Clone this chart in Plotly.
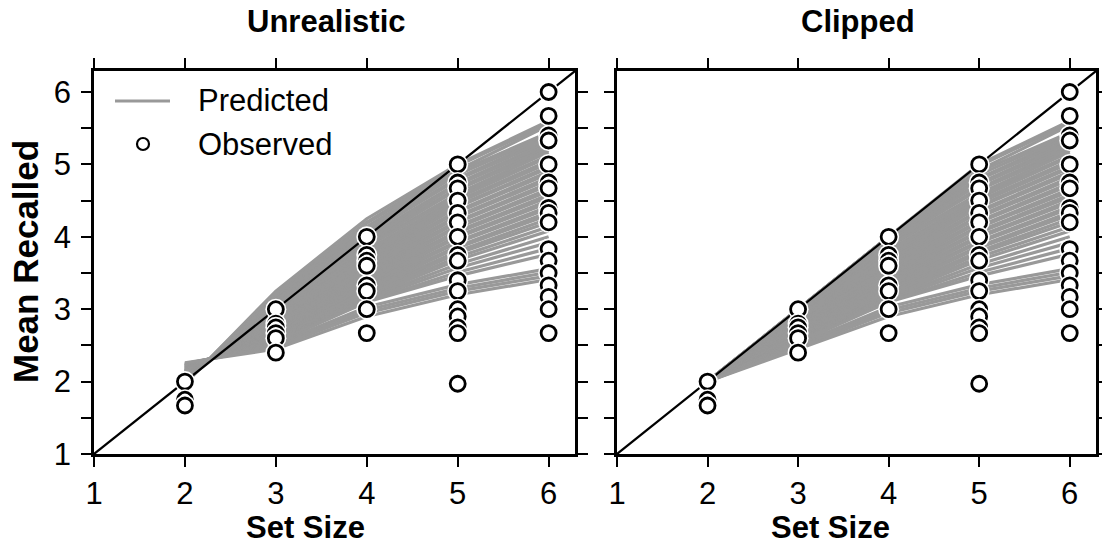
import plotly.graph_objects as go

# ---------------- data ----------------
set_sizes = [2, 3, 4, 5, 6]
tick_vals = [1, 2, 3, 4, 5, 6]
axis_range = [1, 6.29]
diag_xy = [1, 7]

# predicted mean recalled per simulated subject (set sizes 2..6)
pred_unrealistic = [
    [1.97, 3.25, 4.25, 5.00, 5.60],
    [1.98, 3.22, 4.20, 4.98, 5.57],
    [1.98, 3.18, 4.19, 4.92, 5.54],
    [1.99, 3.16, 4.14, 4.90, 5.44],
    [2.00, 3.13, 4.10, 4.86, 5.41],
    [2.00, 3.12, 4.07, 4.81, 5.38],
    [2.01, 3.09, 4.04, 4.79, 5.34],
    [2.02, 3.07, 4.00, 4.74, 5.31],
    [2.02, 3.05, 3.97, 4.72, 5.27],
    [2.03, 3.03, 3.95, 4.67, 5.24],
    [2.04, 3.01, 3.91, 4.65, 5.20],
    [2.04, 2.99, 3.88, 4.60, 5.17],
    [2.05, 2.98, 3.86, 4.58, 5.12],
    [2.06, 2.95, 3.82, 4.54, 5.10],
    [2.06, 2.94, 3.80, 4.50, 5.05],
    [2.07, 2.92, 3.76, 4.47, 5.02],
    [2.08, 2.90, 3.74, 4.43, 4.97],
    [2.08, 2.88, 3.70, 4.41, 4.95],
    [2.09, 2.86, 3.68, 4.36, 4.90],
    [2.10, 2.85, 3.64, 4.34, 4.87],
    [2.10, 2.83, 3.62, 4.29, 4.82],
    [2.11, 2.81, 3.58, 4.27, 4.79],
    [2.12, 2.80, 3.56, 4.22, 4.74],
    [2.12, 2.78, 3.52, 4.20, 4.71],
    [2.13, 2.76, 3.50, 4.15, 4.66],
    [2.14, 2.75, 3.47, 4.13, 4.63],
    [2.14, 2.73, 3.45, 4.08, 4.58],
    [2.15, 2.72, 3.42, 4.06, 4.55],
    [2.15, 2.70, 3.40, 4.01, 4.50],
    [2.16, 2.69, 3.37, 3.99, 4.47],
    [2.17, 2.67, 3.35, 3.94, 4.42],
    [2.17, 2.66, 3.32, 3.92, 4.39],
    [2.18, 2.64, 3.30, 3.87, 4.34],
    [2.19, 2.63, 3.27, 3.85, 4.30],
    [2.19, 2.62, 3.25, 3.80, 4.25],
    [2.20, 2.60, 3.22, 3.77, 4.20],
    [2.21, 2.59, 3.20, 3.72, 4.14],
    [2.21, 2.58, 3.17, 3.68, 4.08],
    [2.22, 2.57, 3.15, 3.62, 4.00],
    [2.22, 2.56, 3.13, 3.57, 3.92],
    [2.23, 2.55, 3.11, 3.51, 3.84],
    [2.23, 2.54, 3.10, 3.46, 3.76],
    [2.24, 2.52, 3.03, 3.34, 3.56],
    [2.24, 2.50, 2.99, 3.29, 3.51],
    [2.25, 2.48, 2.95, 3.25, 3.46],
    [2.26, 2.45, 2.90, 3.20, 3.41],
]

pred_clipped = [
    [1.97, 3.00, 4.00, 5.00, 5.60],
    [1.98, 3.00, 4.00, 4.98, 5.57],
    [1.98, 3.00, 4.00, 4.92, 5.54],
    [1.99, 3.00, 4.00, 4.90, 5.44],
    [2.00, 3.00, 4.00, 4.86, 5.41],
    [2.00, 3.00, 4.00, 4.81, 5.38],
    [2.00, 3.00, 4.00, 4.79, 5.34],
    [2.00, 3.00, 4.00, 4.74, 5.31],
    [2.00, 3.00, 3.97, 4.72, 5.27],
    [2.00, 3.00, 3.95, 4.67, 5.24],
    [2.00, 3.00, 3.91, 4.65, 5.20],
    [2.00, 2.99, 3.88, 4.60, 5.17],
    [2.00, 2.98, 3.86, 4.58, 5.12],
    [2.00, 2.95, 3.82, 4.54, 5.10],
    [2.00, 2.94, 3.80, 4.50, 5.05],
    [2.00, 2.92, 3.76, 4.47, 5.02],
    [2.00, 2.90, 3.74, 4.43, 4.97],
    [2.00, 2.88, 3.70, 4.41, 4.95],
    [2.00, 2.86, 3.68, 4.36, 4.90],
    [2.00, 2.85, 3.64, 4.34, 4.87],
    [2.00, 2.83, 3.62, 4.29, 4.82],
    [2.00, 2.81, 3.58, 4.27, 4.79],
    [2.00, 2.80, 3.56, 4.22, 4.74],
    [2.00, 2.78, 3.52, 4.20, 4.71],
    [2.00, 2.76, 3.50, 4.15, 4.66],
    [2.00, 2.75, 3.47, 4.13, 4.63],
    [2.00, 2.73, 3.45, 4.08, 4.58],
    [2.00, 2.72, 3.42, 4.06, 4.55],
    [2.00, 2.70, 3.40, 4.01, 4.50],
    [2.00, 2.69, 3.37, 3.99, 4.47],
    [2.00, 2.67, 3.35, 3.94, 4.42],
    [2.00, 2.66, 3.32, 3.92, 4.39],
    [2.00, 2.64, 3.30, 3.87, 4.34],
    [2.00, 2.63, 3.27, 3.85, 4.30],
    [2.00, 2.62, 3.25, 3.80, 4.25],
    [2.00, 2.60, 3.22, 3.77, 4.20],
    [2.00, 2.59, 3.20, 3.72, 4.14],
    [2.00, 2.58, 3.17, 3.68, 4.08],
    [2.00, 2.57, 3.15, 3.62, 4.00],
    [2.00, 2.56, 3.13, 3.57, 3.92],
    [2.00, 2.55, 3.11, 3.51, 3.84],
    [2.00, 2.54, 3.10, 3.46, 3.76],
    [2.00, 2.52, 3.03, 3.34, 3.56],
    [2.00, 2.50, 2.99, 3.29, 3.51],
    [2.00, 2.48, 2.95, 3.25, 3.46],
    [2.00, 2.45, 2.90, 3.20, 3.41],
]

# observed mean recalled per subject, per set size
obs_ss2 = [2.00, 1.75, 1.67]
obs_ss3 = [3.00, 2.80, 2.75, 2.67, 2.60, 2.40]
obs_ss4 = [4.00, 3.75, 3.67, 3.60, 3.33, 3.25, 3.00, 2.67]
obs_ss5 = [5.00, 4.75, 4.67, 4.50, 4.33, 4.20, 4.00, 3.75, 3.67, 3.40,
           3.25, 3.00, 2.90, 2.75, 2.67, 1.97]
obs_ss6 = [6.00, 5.67, 5.40, 5.33, 5.00, 4.75, 4.67, 4.40, 4.33, 4.20,
           3.83, 3.67, 3.50, 3.33, 3.17, 3.00, 2.67]

panel_titles = ["Unrealistic", "Clipped"]
legend_labels = ["Predicted", "Observed"]

# ---------------- styling ----------------
GRAY = "#999999"
FONT = "Liberation Sans, Arial, sans-serif"
W, H = 1102, 557
x_domains = [[94 / W, 575 / W], [617 / W, 1096 / W]]
y_domain = [(H - 454) / H, (H - 71) / H]

fig = go.Figure()


def line_xy(preds):
    xs, ys = [], []
    for row in preds:
        xs += set_sizes + [None]
        ys += list(row) + [None]
    return xs, ys


obs_lists = [(2, obs_ss2), (3, obs_ss3), (4, obs_ss4), (5, obs_ss5), (6, obs_ss6)]


def obs_xy():
    xs, ys, sizes, fills, lines, widths = [], [], [], [], [], []
    for ss, vals in obs_lists:
        for v in vals:
            # white halo first, then black ring
            xs += [ss, ss]
            ys += [v, v]
            sizes += [21, 15]
            fills += ["white", "white"]
            lines += ["white", "black"]
            widths += [0, 2.8]
    return xs, ys, sizes, fills, lines, widths


for i, preds in enumerate([pred_unrealistic, pred_clipped]):
    xa = "x" if i == 0 else "x2"
    ya = "y" if i == 0 else "y2"
    lx, ly = line_xy(preds)
    fig.add_trace(go.Scatter(
        x=lx, y=ly, mode="lines", xaxis=xa, yaxis=ya,
        line=dict(color=GRAY, width=3.2), connectgaps=False,
        name="Predicted", legendgroup="pred", showlegend=False,
        hoverinfo="skip"))
    fig.add_trace(go.Scatter(
        x=diag_xy, y=diag_xy, mode="lines", xaxis=xa, yaxis=ya,
        line=dict(color="black", width=2.2), showlegend=False,
        hoverinfo="skip"))
    ox, oy, osz, ofill, oline, ow = obs_xy()
    fig.add_trace(go.Scatter(
        x=ox, y=oy, mode="markers", xaxis=xa, yaxis=ya,
        marker=dict(size=osz, color=ofill, opacity=1,
                    line=dict(color=oline, width=ow)),
        name="Observed", showlegend=False))

axis_common = dict(
    range=axis_range, tickvals=tick_vals, ticks="outside", ticklen=10,
    tickwidth=2.4, tickcolor="black", showline=True, linewidth=2.6,
    linecolor="black", mirror="allticks", showgrid=False, zeroline=False,
    automargin=False,
    tickfont=dict(family=FONT, size=31, color="black"),
)
minor_y = dict(ticks="outside", ticklen=10, tickwidth=2.4,
               tickcolor="black", dtick=0.5, tick0=1)

fig.update_layout(
    width=W, height=H, autosize=False,
    margin=dict(l=0, r=0, t=0, b=0, pad=0, autoexpand=False),
    plot_bgcolor="white", paper_bgcolor="white",
    xaxis=dict(domain=x_domains[0], anchor="y", **axis_common),
    yaxis=dict(domain=y_domain, anchor="x", minor=minor_y,
               ticklabelstandoff=4, **axis_common),
    xaxis2=dict(domain=x_domains[1], anchor="y2", **axis_common),
    yaxis2=dict(domain=y_domain, anchor="x2", showticklabels=False,
                minor=minor_y, **axis_common),
    showlegend=False,
    font=dict(family=FONT, color="black"),
)


# key drawn inside the left panel (pixel-placed)
def px(x):
    return x / W


def py(y):
    return 1 - y / H


shapes = [
    dict(type="line", xref="paper", yref="paper", x0=px(115), x1=px(170),
         y0=py(101), y1=py(101), line=dict(color=GRAY, width=2.8)),
    dict(type="circle", xref="paper", yref="paper", x0=px(137), x1=px(149),
         y0=py(150), y1=py(138), fillcolor="white",
         line=dict(color="black", width=2.2)),
]
fig.update_layout(shapes=shapes)

annots = []
for lbl, yy in zip(legend_labels, [101, 144]):
    annots.append(dict(text=lbl, x=px(196), y=py(yy), xref="paper",
                       yref="paper", showarrow=False, xanchor="left",
                       yanchor="middle", font=dict(family=FONT, size=31)))
title_cx = [326, 858]
xlab_cx = [305, 830]
for i, t in enumerate(panel_titles):
    annots.append(dict(text=f"<b>{t}</b>", x=px(title_cx[i]), y=py(22),
                       xref="paper", yref="paper", showarrow=False,
                       xanchor="center", yanchor="middle",
                       font=dict(family=FONT, size=31)))
    annots.append(dict(text="<b>Set Size</b>", x=px(xlab_cx[i]), y=py(527),
                       xref="paper", yref="paper", showarrow=False,
                       xanchor="center", yanchor="middle",
                       font=dict(family=FONT, size=31)))
annots.append(dict(text="<b>Mean Recalled</b>", x=px(26), y=py(262),
                   xref="paper", yref="paper", showarrow=False, textangle=-90,
                   xanchor="center", yanchor="middle",
                   font=dict(family=FONT, size=35)))
fig.update_layout(annotations=annots)

fig.write_html("out.html")
